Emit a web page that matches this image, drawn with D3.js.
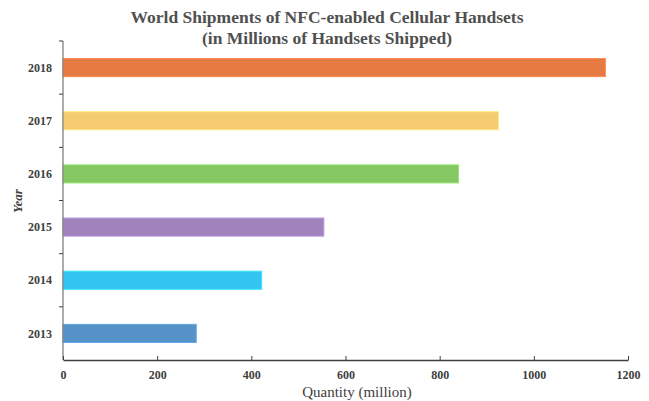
<!DOCTYPE html>
<html>
<head>
<meta charset="utf-8">
<script src="https://cdn.jsdelivr.net/npm/d3@7"></script>
<style>
  body { margin: 0; background: #fff; }
  svg { display: block; font-family: "Liberation Serif", "Times New Roman", serif; }
  svg text { font-family: "Liberation Serif", "Times New Roman", serif; }
</style>
</head>
<body>
<svg id="chart" width="649" height="401"></svg>
<script>
const years = ['2013', '2014', '2015', '2016', '2017', '2018'];
const shipments = [283, 422, 554, 840, 925, 1152];
const barColors = ['#5592c8', '#33c5ef', '#a083bd', '#84c763', '#f5cc70', '#e57a43'];
const xTicks = [0, 200, 400, 600, 800, 1000, 1200];

const plotLeft = 63;
const plotRight = 628;
const plotTop = 41;
const plotBottom = 360;

const data = years.map((y, i) => ({ year: y, value: shipments[i], color: barColors[i] }));

const svg = d3.select('#chart');

const xscale = d3.scaleLinear()
  .domain([0, 1200])
  .range([plotLeft, plotRight]);

// 2018 on top
const yscale = d3.scaleBand()
  .domain(years.slice().reverse())
  .range([plotTop, plotBottom])
  .paddingInner(0.66)
  .paddingOuter(0.33);

// bars
svg.append('g')
  .selectAll('rect')
  .data(data)
  .enter()
  .append('rect')
  .attr('x', xscale(0))
  .attr('y', (d) => yscale(d.year))
  .attr('width', (d) => xscale(d.value) - xscale(0))
  .attr('height', yscale.bandwidth())
  .attr('fill', (d) => d.color)
  .attr('stroke', (d) => d3.color(d.color).brighter(0.4))
  .attr('stroke-width', 1);

// y axis: ticks at band boundaries
const step = (plotBottom - plotTop) / years.length;
const yAxis = svg.append('g');
yAxis.append('line')
  .attr('x1', plotLeft).attr('x2', plotLeft)
  .attr('y1', plotTop).attr('y2', plotBottom)
  .attr('stroke', '#808080').attr('stroke-width', 1.3);
yAxis.selectAll('line.tick')
  .data(d3.range(years.length))
  .enter()
  .append('line')
  .attr('class', 'tick')
  .attr('x1', plotLeft - 4).attr('x2', plotLeft)
  .attr('y1', (i) => plotTop + i * step)
  .attr('y2', (i) => plotTop + i * step)
  .attr('stroke', '#404040');
yAxis.selectAll('text')
  .data(years)
  .enter()
  .append('text')
  .attr('x', 52)
  .attr('y', (d) => yscale(d) + yscale.bandwidth() / 2)
  .attr('dy', '0.35em')
  .attr('text-anchor', 'end')
  .attr('font-size', 12)
  .attr('font-weight', 'bold')
  .attr('fill', '#404040')
  .text((d) => d);

// x axis
const bottomAxis = d3.axisBottom(xscale)
  .tickValues(xTicks)
  .tickFormat(d3.format('d'))
  .tickSize(-4)
  .tickSizeOuter(0)
  .tickPadding(10);

const xg = svg.append('g')
  .attr('transform', `translate(0, ${plotBottom})`)
  .call(bottomAxis)
  .attr('font-family', '"Liberation Serif", serif');
xg.select('.domain').attr('stroke', '#404040').attr('stroke-width', 1.3);
xg.selectAll('.tick line').attr('stroke', '#404040');
xg.selectAll('.tick text')
  .attr('font-size', 12)
  .attr('font-weight', 'bold')
  .attr('fill', '#404040');

// axis titles
svg.append('text')
  .attr('x', 357)
  .attr('y', 397)
  .attr('text-anchor', 'middle')
  .attr('font-size', 15)
  .attr('fill', '#404040')
  .text('Quantity (million)');

svg.append('text')
  .attr('transform', 'translate(22, 201) rotate(-90)')
  .attr('text-anchor', 'middle')
  .attr('font-size', 13)
  .attr('font-weight', 'bold')
  .attr('font-style', 'italic')
  .attr('fill', '#404040')
  .text('Year');

// title
const title = svg.append('g').attr('fill', '#505050')
  .attr('font-size', 17.5).attr('font-weight', 'bold').attr('text-anchor', 'middle');
title.append('text').attr('x', 327).attr('y', 23)
  .text('World Shipments of NFC-enabled Cellular Handsets');
title.append('text').attr('x', 327).attr('y', 44)
  .text('(in Millions of Handsets Shipped)');
</script>
</body>
</html>
